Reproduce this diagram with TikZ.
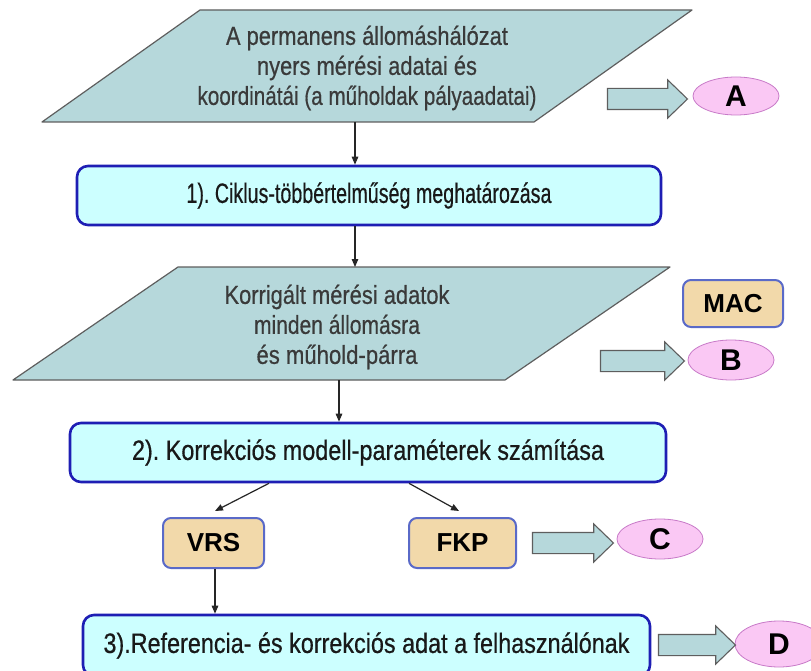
\documentclass[tikz,border=0pt]{standalone}
\usepackage{fontspec}
\setmainfont{Liberation Sans}
\newfontfamily\heavysans[FakeBold=0.6]{Liberation Sans}
\usetikzlibrary{arrows.meta,shapes.geometric,shapes.arrows,calc}

\definecolor{paral}{HTML}{B6D8DB}
\definecolor{procfill}{HTML}{CCFFFF}
\definecolor{procline}{HTML}{1E1EB4}
\definecolor{tagfill}{HTML}{F2D9AA}
\definecolor{tagline}{HTML}{5A6AC8}
\definecolor{ellfill}{HTML}{FAC8F4}
\definecolor{ellline}{HTML}{C87AC8}
\definecolor{greyline}{HTML}{5E5E5E}
\definecolor{softtext}{HTML}{3A3A3A}

% stretch or squeeze a line of text to a given width, keeping its height
\newcommand\fitw[2]{\resizebox{#1}{\height}{#2}}
\frenchspacing

\begin{document}
\begin{tikzpicture}[x=1pt,y=-1pt,
  datashape/.style={fill=paral,draw=greyline,line width=1.2pt,line join=round},
  datatext/.style={text=softtext,align=center,font=\heavysans\fontsize{26}{30}\selectfont,inner sep=0pt},
  procbox/.style={draw=procline,fill=procfill,line width=2.6pt,rounded corners=11pt,
    text=black!90,font=\heavysans\fontsize{28}{30}\selectfont,inner sep=0pt},
  tagbox/.style={draw=tagline,fill=tagfill,line width=2pt,rounded corners=8pt,inner sep=0pt,
    font=\bfseries\fontsize{26}{28}\selectfont},
  letter/.style={ellipse,draw=ellline,fill=ellfill,line width=0.8pt,inner sep=0pt,
    font=\bfseries\fontsize{30}{32}\selectfont},
  flow/.style={-{Triangle[length=8pt,width=6.5pt]},line width=1.2pt,draw=black!85},
  blockarrow/.style={single arrow,draw=greyline,fill=paral,line width=1.1pt,inner xsep=0pt,
    inner ysep=10pt,single arrow head extend=8.5pt,single arrow tip angle=88},
]
\fill[white] (0,0) rectangle (811,671);
\clip (0,0) rectangle (811,671);

% input data parallelograms
\draw[datashape] (200,10) -- (692,10) -- (534,122) -- (42,122) -- cycle;
\node[datatext] (p1txt) at (367,68) {%
  \fitw{282pt}{A permanens állomáshálózat}\\
  \fitw{220pt}{nyers mérési adatai és}\\
  \fitw{339pt}{koordinátái (a műholdak pályaadatai)}};
\coordinate (p1bot) at (355,122);

\draw[datashape] (178,267) -- (670,267) -- (505,380) -- (13,380) -- cycle;
\node[datatext] (p2txt) at (337,327) {%
  \fitw{225pt}{Korrigált mérési adatok}\\
  \fitw{166pt}{minden állomásra}\\
  \fitw{161pt}{és műhold-párra}};
\coordinate (p2top) at (355,267);
\coordinate (p2bot) at (339,380);

% processing steps
\node[procbox,minimum width=584pt,minimum height=59pt] (box1) at (369,195.5)
  {\fitw{365pt}{1). Ciklus-többértelműség meghatározása}};
\node[procbox,minimum width=596pt,minimum height=59pt] (box2) at (368,452.5)
  {\fitw{472pt}{2). Korrekciós modell-paraméterek számítása}};
\node[procbox,minimum width=567pt,minimum height=61pt] (box3) at (366.5,645.5)
  {\fitw{526pt}{3).Referencia- és korrekciós adat a felhasználónak}};

% service types
\node[tagbox,minimum width=101pt,minimum height=50pt] (vrs) at (213.5,543) {VRS};
\node[tagbox,minimum width=107pt,minimum height=50pt] (fkp) at (462.5,543) {FKP};
\node[tagbox,minimum width=100pt,minimum height=47pt] (mac) at (733,303.5) {MAC};

% labels
\node[letter,minimum width=86pt,minimum height=38pt] (la) at (736,96) {A};
\node[letter,minimum width=86pt,minimum height=40pt] (lb) at (731,360) {B};
\node[letter,minimum width=86pt,minimum height=40pt] (lc) at (660,539) {C};
\node[letter,minimum width=88pt,minimum height=46pt] (ld) at (779,644) {D};

% wide outline arrows towards the labels
\node[blockarrow,minimum height=80pt] (ba) at (642,99) {};
\node[blockarrow,minimum height=84pt] (bb) at (637,361) {};
\node[blockarrow,minimum height=81pt] (bc) at (567.5,543) {};
\node[blockarrow,minimum height=77pt] (bd) at (691.5,645) {};

% flow connectors
\coordinate (vrsout) at ($(vrs.south)+(1.5,0)$);
\draw[flow] (p1bot) -- (p1bot |- box1.north);
\draw[flow] (box1.south -| p2top) -- (p2top);
\draw[flow] (p2bot) -- (p2bot |- box2.north);
\draw[flow] ($(box2.south)+(-99,0)$) -- ($(vrs.north)+(1.5,-6)$);
\draw[flow] ($(box2.south)+(41,0)$) -- ($(fkp.north)+(-3.5,-6)$);
\draw[flow] (vrsout) -- (vrsout |- box3.north);
\end{tikzpicture}
\end{document}
